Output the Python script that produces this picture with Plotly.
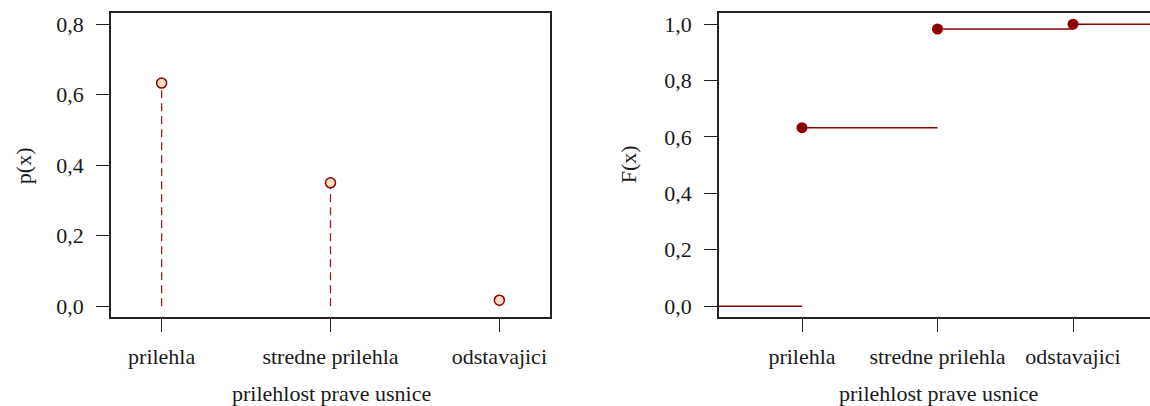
import plotly.graph_objects as go

categories = ["prilehla", "stredne prilehla", "odstavajici"]
pmf_values = [0.633, 0.350, 0.017]
cdf_values = [0.633, 0.983, 1.0]
y_ticks_left = [0.0, 0.2, 0.4, 0.6, 0.8]
y_ticks_right = [0.0, 0.2, 0.4, 0.6, 0.8, 1.0]
x_title = "prilehlost prave usnice"

W, H = 1150, 406
FONT = "Liberation Serif"
FS = 22
TXT = "#1a1a1a"
RED = "#8B0000"

xpos = list(range(1, len(categories) + 1))
xr_left = [0.7, 3.3]
xr_right = [0.3875, 3.568]

fig = go.Figure()

# PMF stems
sx, sy = [], []
for x, v in zip(xpos, pmf_values):
    sx += [x, x, None]
    sy += [0, v, None]
fig.add_trace(go.Scatter(x=sx, y=sy, mode="lines", xaxis="x", yaxis="y",
                         line=dict(color="#9b1c1c", width=1.3, dash="8px,5px"),
                         hoverinfo="skip", showlegend=False))
fig.add_trace(go.Scatter(x=xpos, y=pmf_values, mode="markers", xaxis="x", yaxis="y",
                         marker=dict(size=10, color="#FDDCC0",
                                     line=dict(color=RED, width=1.5)),
                         showlegend=False))

# CDF steps
cx, cy = [], []
edges = [xr_right[0]] + xpos + [xr_right[1]]
levels = [0.0] + cdf_values
for i in range(len(levels)):
    cx += [edges[i], edges[i + 1], None]
    cy += [levels[i], levels[i], None]
fig.add_trace(go.Scatter(x=cx, y=cy, mode="lines", xaxis="x2", yaxis="y2",
                         line=dict(color=RED, width=1.5),
                         hoverinfo="skip", showlegend=False))
fig.add_trace(go.Scatter(x=xpos, y=cdf_values, mode="markers", xaxis="x2", yaxis="y2",
                         marker=dict(size=11, color=RED, line=dict(width=0)),
                         showlegend=False))

ydom = [1 - 318 / H, 1 - 12 / H]
axis_common = dict(showgrid=False, zeroline=False, showline=True, linecolor="#222",
                   linewidth=1.5, ticks="outside", ticklen=13, tickwidth=1.3,
                   tickcolor="#222", tickfont=dict(family=FONT, size=FS, color=TXT))

def fmt(v):
    return f"{v:.1f}".replace(".", ",")

fig.update_layout(
    width=W, height=H, margin=dict(l=0, r=0, t=0, b=0),
    paper_bgcolor="white", plot_bgcolor="white",
    font=dict(family=FONT, size=FS, color=TXT),
    xaxis=dict(domain=[111 / W, 550 / W], range=xr_left, tickvals=xpos,
               ticktext=categories, mirror=True, anchor="y",
               ticklabelstandoff=5, **axis_common),
    yaxis=dict(domain=ydom, range=[-0.032, 0.832], tickvals=y_ticks_left,
               ticktext=[fmt(v) for v in y_ticks_left], mirror=True, anchor="x",
               ticklabelstandoff=8, **axis_common),
    xaxis2=dict(domain=[719 / W, 1.0], range=xr_right, tickvals=xpos,
                ticktext=categories, mirror=True, anchor="y2",
                ticklabelstandoff=5, **axis_common),
    yaxis2=dict(domain=ydom, range=[-0.04, 1.04], tickvals=y_ticks_right,
                ticktext=[fmt(v) for v in y_ticks_right], mirror=False, anchor="x2",
                ticklabelstandoff=8, **axis_common),
)

def ann(text, px, py, angle=0):
    fig.add_annotation(text=text, x=px / W, y=1 - py / H, xref="paper", yref="paper",
                       showarrow=False, textangle=angle, xanchor="center", yanchor="middle",
                       font=dict(family=FONT, size=FS, color=TXT))

ann(x_title, 331, 394)
ann(x_title, 938, 394)
ann("p(x)", 23, 166, -90)
ann("F(x)", 628, 164, -90)

fig.write_html("out.html")
